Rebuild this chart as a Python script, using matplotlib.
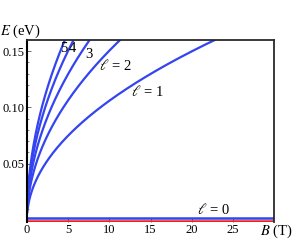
import numpy as np
import matplotlib
matplotlib.use("Agg")
import matplotlib.pyplot as plt

# Landau levels: field B (T) at which each level reaches E = 0.16 eV
levels = [1, 2, 3, 4, 5]
b_at_top = [22.8, 11.3, 7.6, 5.65, 4.6]
e_top = 0.16
zero_level_blue = 0.0015
zero_level_red = -0.001

x_ticks = [0, 5, 10, 15, 20, 25]
y_ticks = [0.05, 0.10, 0.15]
y_tick_labels = ["0.05", "0.10", "0.15"]

plt.rcParams['font.family'] = ['Liberation Serif', 'DejaVu Serif']
plt.rcParams['mathtext.fontset'] = 'stix'

fig = plt.figure(figsize=(2.94, 2.5), dpi=100)
ax = fig.add_axes([27/294, 1 - 221.5/250, (274-27)/294, (221.5-40)/250])

blue = '#3344f0'
red = '#ee2222'
B = np.linspace(0.03, 30, 600)
for l, bt in zip(levels, b_at_top):
    E = e_top * np.sqrt(B / bt)
    ax.plot(B, E, color=blue, lw=1.6, solid_capstyle='butt')

ax.plot([0, 30], [zero_level_red, zero_level_red], color=red, lw=1.8)
ax.plot([0, 30], [zero_level_blue, zero_level_blue], color=blue, lw=1.8)

ax.set_xlim(0, 30)
ax.set_ylim(-0.0015, 0.16)
ax.set_xticks(x_ticks)
ax.set_xticklabels([str(t) for t in x_ticks])
ax.set_yticks(y_ticks)
ax.set_yticklabels(y_tick_labels)
ax.set_yticks(np.arange(0.01, 0.16, 0.01), minor=True)
ax.tick_params(axis='both', which='major', direction='in', length=3, width=0.6,
               labelsize=9, pad=2, color='#555555')
ax.tick_params(axis='both', which='minor', direction='in', length=1.5, width=0.5,
               color='#555555')
ax.tick_params(axis='x', which='minor', bottom=False)
ax.tick_params(axis='y', pad=1.5)

ax.spines['left'].set_linewidth(1.5)
ax.spines['left'].set_color('black')
for s in ['top', 'right']:
    ax.spines[s].set_linewidth(1.3)
    ax.spines[s].set_color('#2a2a2a')
ax.spines['bottom'].set_visible(False)

fig.text(20/294, 1 - 31/250, r'$E$ (eV)', fontsize=10.5, ha='center', va='center')
fig.text(276/294, 1 - 231/250, r'$B$ (T)', fontsize=10.5, ha='center', va='center')

tk = dict(fontsize=10.5, ha='center', va='center')
fig.text(64/294, 1 - 48/250, '5', **tk)
fig.text(72.5/294, 1 - 48/250, '4', **tk)
fig.text(88.5/294, 1 - 55/250, '3', **tk)
fig.text(115/294, 1 - 65/250, r'$\ell$ = 2', **tk)
fig.text(147/294, 1 - 91/250, r'$\ell$ = 1', **tk)
fig.text(213/294, 1 - 210/250, r'$\ell$ = 0', **tk)

fig.savefig('out.png', dpi=100)
